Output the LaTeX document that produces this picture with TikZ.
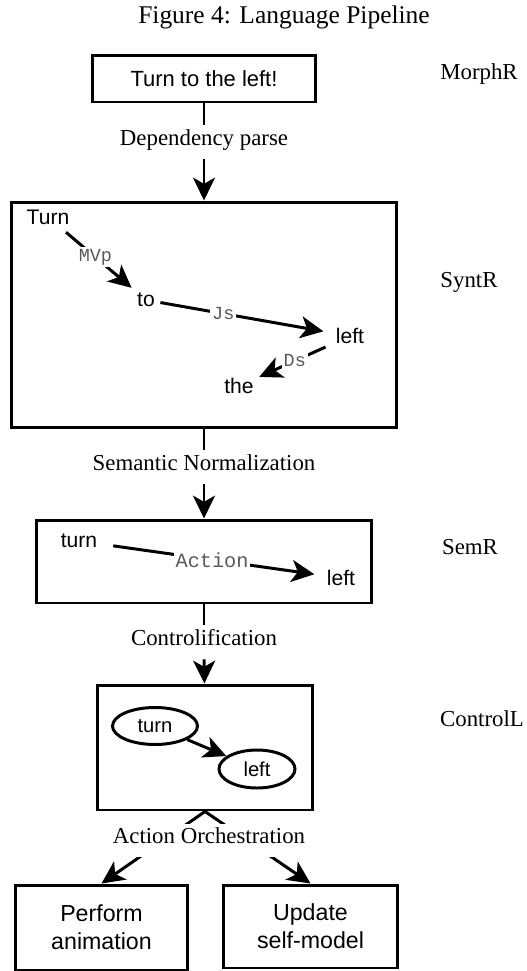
\documentclass[tikz,border=0pt]{standalone}
\usepackage{fontspec}
\setmainfont{Liberation Serif}
\setsansfont{Liberation Sans}
\setmonofont{Liberation Mono}
\usetikzlibrary{arrows.meta}
\usetikzlibrary{positioning}
\usetikzlibrary{shapes.geometric}

\begin{document}
\begin{tikzpicture}[>={Stealth[length=13pt,width=12.5pt,inset=3.5pt]}, x=0.02cm, y=-0.02cm]
	\tikzset{
		box/.style={draw=black, line width=1.7pt, inner sep=4pt, align=center, font=\sffamily\fontsize{12.5}{16}\selectfont},
		arr/.style={->, line width=1.7pt},
		ln/.style={line width=1.7pt},
		lbl/.style={fill=white, inner sep=2pt, text depth=6pt, font=\fontsize{13}{15}\selectfont},
		stage/.style={anchor=base, font=\fontsize{13}{15}\selectfont},
		word/.style={inner sep=3pt, font=\sffamily\fontsize{12}{14}\selectfont},
		rel/.style={fill=white, inner sep=1pt, text=black!65, font=\ttfamily\fontsize{10.5}{12}\selectfont},
		oval/.style={ellipse, draw=black, line width=1.7pt, inner sep=0pt, font=\sffamily\fontsize{11.5}{13}\selectfont},
	}
	\useasboundingbox (0,0) rectangle (527,971);
	
	\node[font=\fontsize{14.5}{17}\selectfont] (title) at (284,17) {Figure 4: Language Pipeline};
	
	% pipeline stages
	\node[box, minimum width=4.46cm, minimum height=0.94cm] (morph) at (204,78.5) {Turn to the left!};
	\node[box, minimum width=7.7cm, minimum height=4.52cm] (synt) at (204,315) {};
	\node[box, minimum width=6.7cm, minimum height=1.66cm] (sem) at (204,561.5) {};
	\node[box, minimum width=4.3cm, minimum height=2.5cm] (ctrl) at (205,747.5) {};
	\node[box, font=\sffamily\fontsize{13.2}{16}\selectfont, minimum width=3.46cm, minimum height=1.7cm] (anim) at (101.5,927.5) {Perform\\animation};
	\node[box, font=\sffamily\fontsize{13.2}{16}\selectfont, minimum width=3.5cm, minimum height=1.66cm] (upd) at (310.5,926.5) {Update\\self-model};
	
	\node[stage] (morphR) at (479,79) {MorphR};
	\node[stage] (syntR) at (469,287) {SyntR};
	\node[stage] (semR) at (470,554) {SemR};
	\node[stage] (ctrlL) at (482,726) {ControlL};
	
	% transitions
	\node[lbl, anchor=base] (dep) at (204,145) {Dependency parse};
	\node[lbl, anchor=base] (norm) at (204,470) {Semantic Normalization};
	\node[lbl, anchor=base] (ctrlf) at (204,645) {Controlification};
	
	\draw[ln] (morph) -- (dep);
	\draw[arr] (dep) -- (synt);
	\draw[ln] (synt) -- (norm);
	\draw[arr] (norm) -- (sem);
	\draw[ln] (sem) -- (ctrlf);
	\draw[arr] (ctrlf) -- (ctrl);
	
	% SyntR: link parse
	\node[word] (w1) at (48,217) {Turn};
	\node[word] (w2) at (146,300) {to};
	\node[word] (w3) at (350,336) {left};
	\node[word] (w4) at (239,386) {the};
	\draw[arr, shorten <=2pt] (w1) -- node[rel, pos=0.47] {MVp} (w2);
	\draw[arr, shorten >=4pt] (w2) -- node[rel, pos=0.37] {Js} (w3);
	\draw[arr, shorten <=3pt] (w3) -- node[rel, pos=0.5] {Ds} (w4);
	
	% SemR
	\node[word] (s1) at (79,541) {turn};
	\node[word] (s2) at (341,578) {left};
	\draw[arr, shorten <=6pt, shorten >=4pt] (s1) -- node[rel, font=\ttfamily\fontsize{11.5}{13}\selectfont] {Action} (s2);
	
	% ControlL
	\node[oval, minimum width=1.7cm, minimum height=0.74cm] (c1) at (155,726) {turn};
	\node[oval, minimum width=1.52cm, minimum height=0.76cm] (c2) at (257,769) {left};
	\draw[arr] (c1) -- (c2);
	
	% orchestration
	\draw[arr] (ctrl.south) -- (anim.north);
	\draw[arr] (ctrl.south) -- (upd.north);
	\node[lbl, anchor=base] (orch) at (209,843) {Action Orchestration};
\end{tikzpicture}
\end{document}
